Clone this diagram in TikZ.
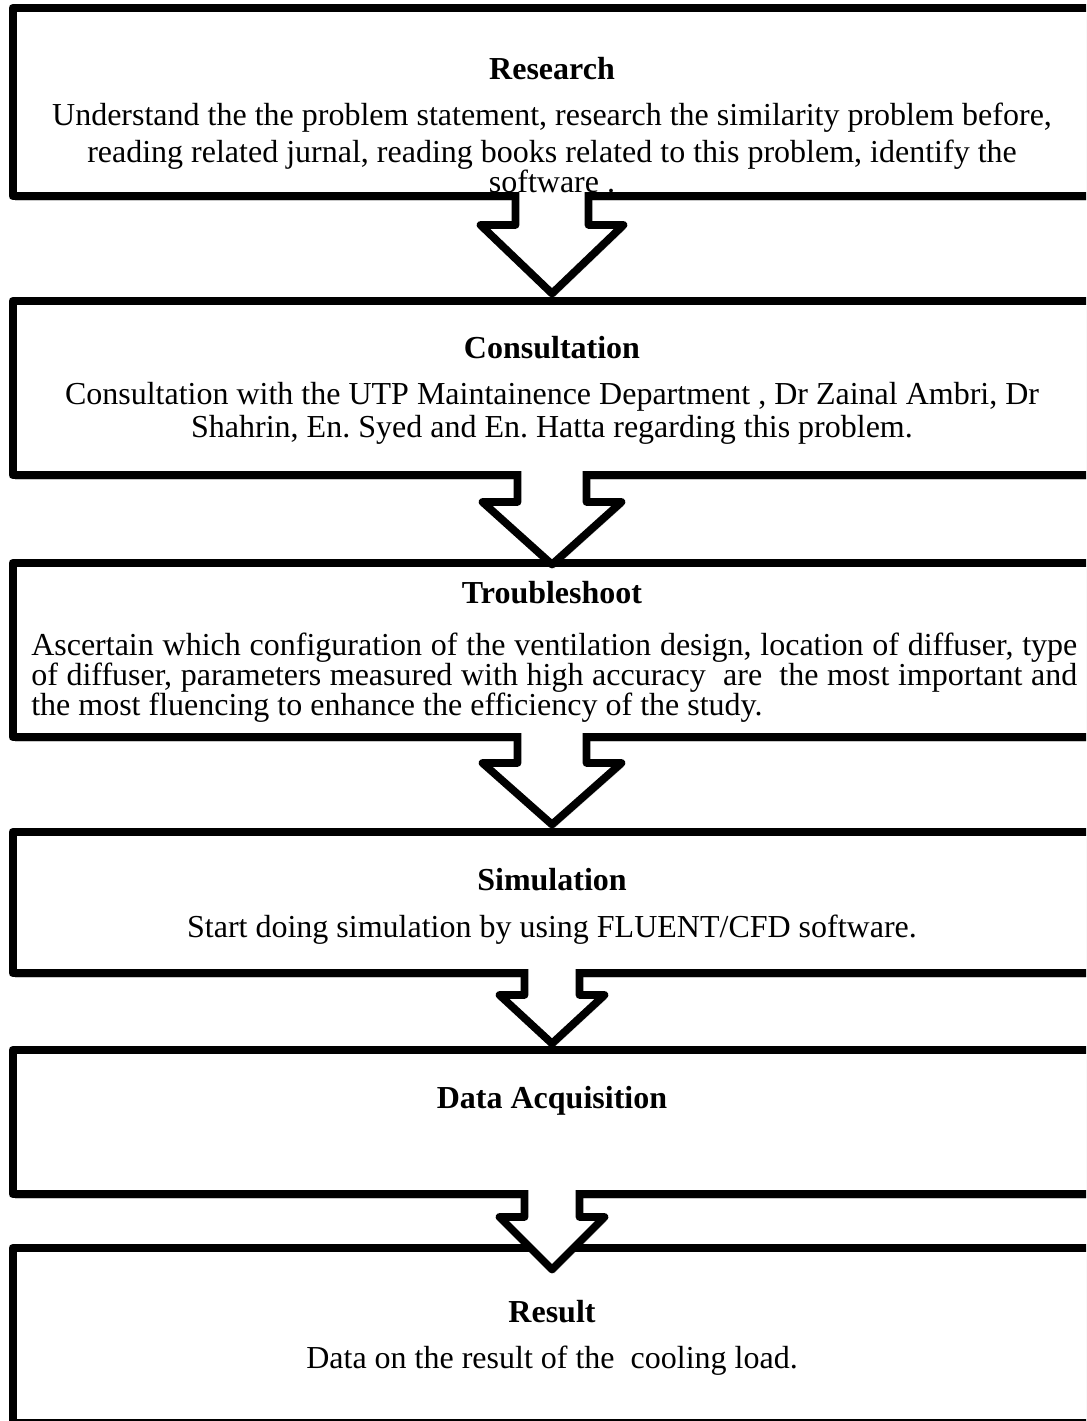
\documentclass[tikz,border=0pt]{standalone}
\usepackage{fontspec}
\setmainfont{Liberation Serif}
\usetikzlibrary{calc,shadows}
\frenchspacing
\tikzset{
  box/.style={draw=black, fill=white, line width=6pt, line join=round,
    outer sep=0pt, inner sep=0pt, minimum width=823.1pt,
    drop shadow={shadow xshift=1.5pt, shadow yshift=-3.5pt, opacity=0.22, fill=black}},
  arrowfill/.style={fill=white,
    drop shadow={shadow xshift=1.5pt, shadow yshift=-3pt, opacity=0.22, fill=black}},
  arrowline/.style={draw=black, line width=5.8pt, line join=round},
  body/.style={inner sep=0pt, anchor=base, font=\fontsize{24}{28}\selectfont},
  title/.style={inner sep=0pt, anchor=base, font=\fontsize{24}{28}\selectfont\bfseries},
}
\newcommand\flowarrow[5]{%
  \coordinate (t) at (#1.south -| ax);
  \fill[arrowfill] ($(t)+(-#4,-4.5)$) -- ($(t)+(-#4,#2)$) -- ($(t)+(-#5,#2)$)
    -- ($(t)+(0,#3)$) -- ($(t)+(#5,#2)$) -- ($(t)+(#4,#2)$) -- ($(t)+(#4,-4.5)$) -- cycle;
  \draw[arrowline] ($(t)+(-#4,-4)$) -- ($(t)+(-#4,#2)$) -- ($(t)+(-#5,#2)$)
    -- ($(t)+(0,#3)$) -- ($(t)+(#5,#2)$) -- ($(t)+(#4,#2)$) -- ($(t)+(#4,-4)$);
}
\begin{document}
\frenchspacing
\begin{tikzpicture}[x=0.75pt,y=-0.75pt]
\clip (0,0) rectangle (1086,1421);
\fill[white] (0,0) rectangle (1086,1421);
\coordinate (ax) at (552,0);
% boxes
\node[box, minimum height=141pt]    (b1) at (561.25,102) {};
\node[box, minimum height=130.5pt]  (b2) at (561.25,388) {};
\node[box, minimum height=130.5pt]  (b3) at (561.25,650) {};
\node[box, minimum height=105.75pt] (b4) at (561.25,902.5) {};
\node[box, minimum height=108pt]    (b5) at (561.25,1122) {};
\node[box, minimum height=131.25pt] (b6) at (561.25,1335.5) {};
% block arrows
\flowarrow{b1}{29}{97.5}{36.5}{71.5}
\flowarrow{b2}{27}{89.5}{34.5}{69.5}
\flowarrow{b3}{26}{87.5}{34.5}{69.5}
\flowarrow{b4}{22}{70.5}{27.5}{52.5}
\flowarrow{b5}{23}{75.5}{27.5}{52.5}
% texts
\node[title] (t1) at (552,79) {Research};
\node[body] (r1) at (552,125) {Understand the the problem statement, research the similarity problem before,};
\node[body] (r2) at (552,162) {reading related jurnal, reading books related to this problem, identify the};
\node[body] (r3) at (552,192) {software .};
\node[title] (t2) at (552,358) {Consultation};
\node[body] (c1) at (552,404) {Consultation with the UTP Maintainence Department , Dr Zainal Ambri, Dr};
\node[body] (c2) at (552,437) {Shahrin, En. Syed and En. Hatta regarding this problem.};
\node[title] (t3) at (552,603) {Troubleshoot};
\node[body, anchor=base west] (s1) at (31,655) {\makebox[784.5pt][s]{Ascertain which configuration of the ventilation design, location of diffuser, type}};
\node[body, anchor=base west] (s2) at (31,685) {\makebox[784.5pt][s]{of diffuser, parameters measured with high accuracy\ \ are\ \ the most important and}};
\node[body, anchor=base west] (s3) at (31,715) {the most fluencing to enhance the efficiency of the study.};
\node[title] (t4) at (552,890) {Simulation};
\node[body] (m1) at (552,937) {Start doing simulation by using FLUENT/CFD software.};
\node[title] (t5) at (552,1108) {Data Acquisition};
\node[title] (t6) at (552,1322) {Result};
\node[body] (d1) at (552,1368) {Data on the result of the\ \ cooling load.};
\end{tikzpicture}
\end{document}
